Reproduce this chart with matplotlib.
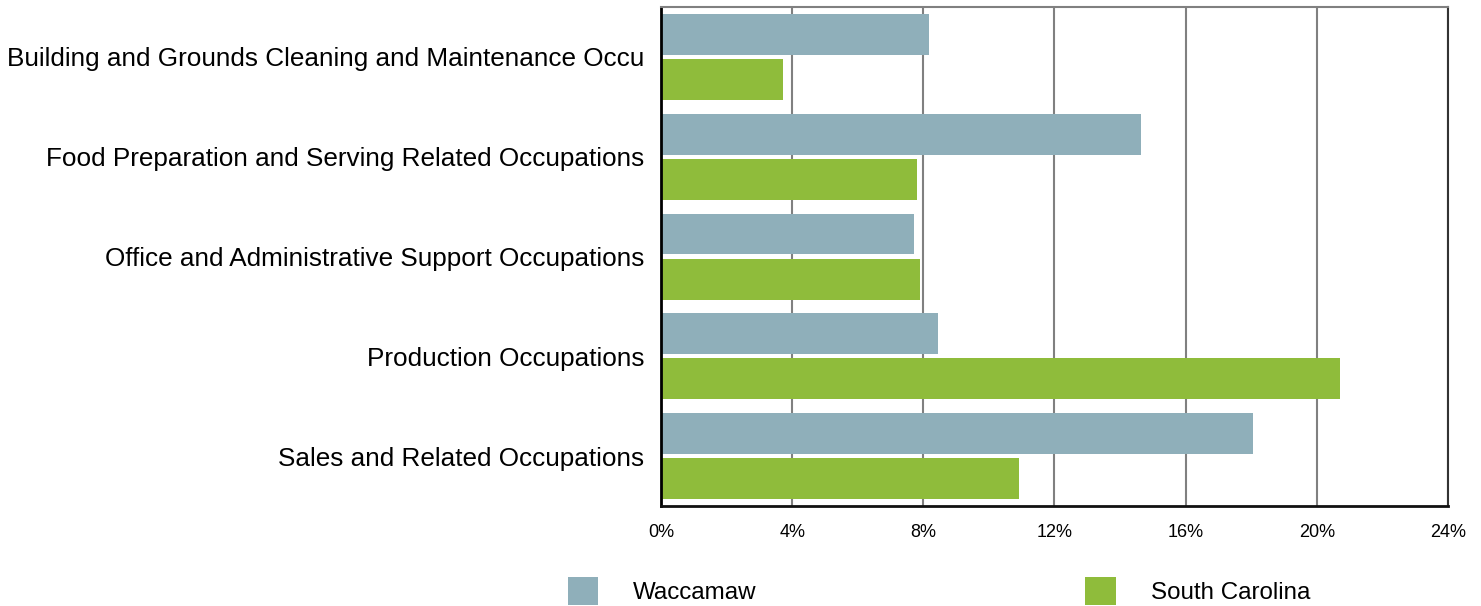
import matplotlib.pyplot as plt
import numpy as np
from matplotlib.ticker import FuncFormatter

plt.rcParams['font.family'] = ['Liberation Sans', 'DejaVu Sans']

categories = [
    'Building and Grounds Cleaning and Maintenance Occu',
    'Food Preparation and Serving Related Occupations',
    'Office and Administrative Support Occupations',
    'Production Occupations',
    'Sales and Related Occupations',
]
waccamaw = [8.17, 14.63, 7.71, 8.45, 18.05]
south_carolina = [3.72, 7.8, 7.9, 20.7, 10.92]
x_ticks = [0, 4, 8, 12, 16, 20, 24]

fig = plt.figure(figsize=(14.81, 6.06), dpi=100)
ax = fig.add_axes([0.4463, 0.165, 0.9777 - 0.4463, 0.9884 - 0.165])

y = np.arange(len(categories))
h = 0.41
off = 0.226
ax.barh(y - off, waccamaw, height=h, color='#8fafba', label='Waccamaw', zorder=3)
ax.barh(y + off, south_carolina, height=h, color='#8fbc3b', label='South Carolina', zorder=3)

ax.set_xlim(0, 24)
ax.set_ylim(4.5, -0.5)
ax.set_xticks(x_ticks)
ax.xaxis.set_major_formatter(FuncFormatter(lambda v, p: f'{v:.0f}%'))
ax.set_yticks(y)
ax.set_yticklabels(categories, fontsize=18.8)
ax.tick_params(axis='y', length=0, pad=12)
ax.tick_params(axis='x', length=0, pad=13, labelsize=13)
ax.grid(axis='x', color='#808080', linewidth=1.5, zorder=1)

ax.spines['left'].set_color('black')
ax.spines['left'].set_linewidth(2)
ax.spines['bottom'].set_color('#111111')
ax.spines['bottom'].set_linewidth(2)
ax.spines['top'].set_color('#808080')
ax.spines['top'].set_linewidth(1.5)
ax.spines['right'].set_color('#333333')
ax.spines['right'].set_linewidth(1.5)
for s in ax.spines.values():
    s.set_zorder(4)

fig.legend(loc='center', bbox_to_anchor=(939 / 1481, 1 - 591 / 606), ncol=2,
           frameon=False, fontsize=17.4, handlelength=1.25, handleheight=1.4,
           handletextpad=1.45, columnspacing=13.6, borderpad=0)

fig.savefig('out.png', dpi=100)
